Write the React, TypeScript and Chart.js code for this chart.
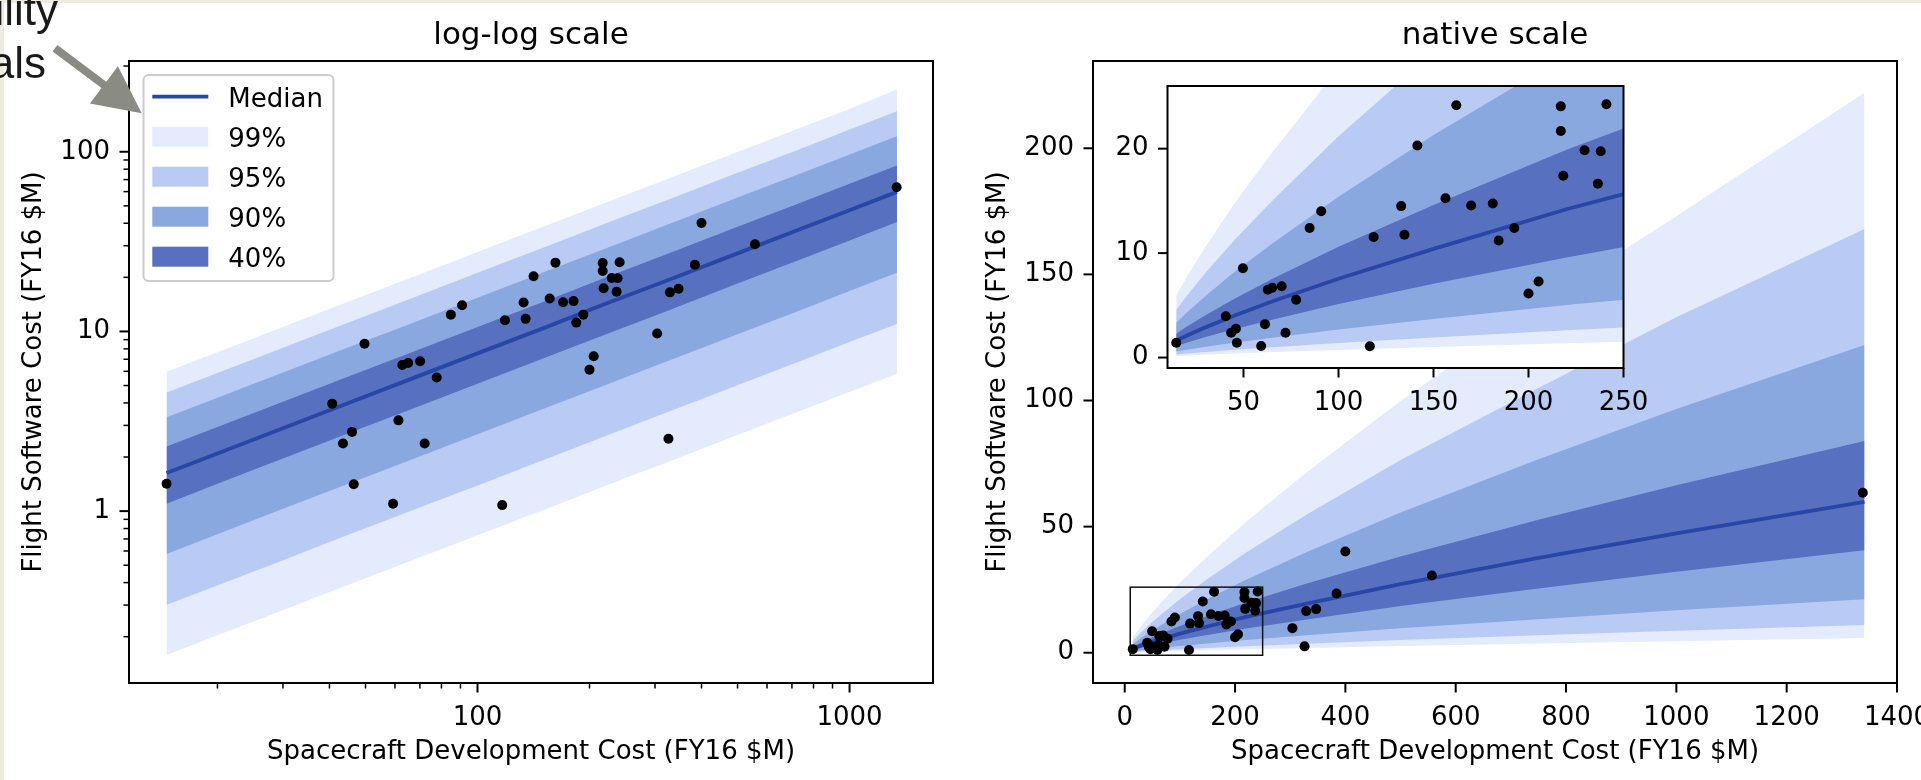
import React, { useEffect, useRef } from 'react';
import { Chart, registerables } from 'chart.js';

Chart.register(...registerables);

const FONT = "'DejaVu Sans', sans-serif";
Chart.defaults.font.family = FONT;
Chart.defaults.color = '#000';

// Observed missions: spacecraft development cost vs flight software cost (FY16 $M)
const costX = [14.6, 40.7, 43.5, 46, 46.5, 49.7, 59.3, 61.3, 62.8, 65.1, 70.1, 72.1, 77.7, 84.8, 90.9, 116.5, 118.5, 133, 134.7, 141.5, 156.3, 162, 169.8, 181.2, 184.3, 192.5, 200, 205.3, 217, 217, 218.3, 229.5, 236.5, 238, 241, 304, 326, 329, 347, 384, 400, 557, 1338];
const costY = [1.42, 3.96, 2.38, 2.76, 1.41, 8.55, 1.1, 3.2, 6.5, 6.68, 6.83, 2.38, 5.54, 12.4, 14.0, 1.08, 11.55, 14.5, 11.75, 20.3, 15.25, 24.15, 14.55, 14.75, 11.2, 12.4, 6.13, 7.28, 24.05, 21.7, 17.4, 19.85, 16.65, 19.75, 24.25, 9.75, 2.53, 16.5, 17.3, 23.5, 40.1, 30.6, 63.4];

// Prediction band samples
const bandX = [14.6, 20, 30, 45, 65, 100, 150, 220, 330, 500, 750, 1000, 1341];
const median = [1.63, 2.09, 2.89, 4.0, 5.36, 7.55, 10.4, 14.2, 19.5, 27.2, 37.6, 47.3, 59.8];
const hi40 = [2.29, 2.94, 4.06, 5.61, 7.52, 10.6, 14.6, 19.9, 27.4, 38.2, 52.7, 66.4, 83.9];
const lo40 = [1.1, 1.42, 1.96, 2.71, 3.63, 5.12, 7.06, 9.59, 13.2, 18.5, 25.5, 32.1, 40.6];
const hi90 = [3.33, 4.28, 5.9, 8.17, 10.9, 15.4, 21.3, 28.9, 39.9, 55.6, 76.7, 96.6, 122];
const lo90 = [0.578, 0.743, 1.03, 1.42, 1.9, 2.68, 3.7, 5.02, 6.93, 9.66, 13.3, 16.8, 21.2];
const hi95 = [4.57, 5.87, 8.11, 11.2, 15.0, 21.2, 29.2, 39.7, 54.8, 76.4, 105, 133, 168];
const lo95 = [0.301, 0.386, 0.533, 0.738, 0.989, 1.39, 1.92, 2.61, 3.61, 5.02, 6.93, 8.73, 11.0];
const hi99 = [5.97, 7.67, 10.6, 14.7, 19.6, 27.7, 38.2, 51.9, 71.6, 99.8, 138, 173, 222];
const lo99 = [0.158, 0.204, 0.281, 0.389, 0.521, 0.735, 1.01, 1.38, 1.9, 2.65, 3.66, 4.6, 5.82];

const legendLabels = ['Median', '99%', '95%', '90%', '40%'];

// Tick positions
const logXTicks = [20, 30, 40, 50, 60, 70, 80, 90, 100, 200, 300, 400, 500, 600, 700, 800, 900, 1000];
const logYTicks = [0.2, 0.3, 0.4, 0.5, 0.6, 0.7, 0.8, 0.9, 1, 2, 3, 4, 5, 6, 7, 8, 9, 10, 20, 30, 40, 50, 60, 70, 80, 90, 100, 200, 300];
const nativeXTicks = [0, 200, 400, 600, 800, 1000, 1200, 1400];
const nativeYTicks = [0, 50, 100, 150, 200];
const insetXTicks = [50, 100, 150, 200, 250];
const insetYTicks = [0, 10, 20];
const insetXRange = [10, 250];
const insetYRange = [-1, 26];

const C99 = '#e3ebfc';
const C95 = '#b9cbf5';
const C90 = '#8aa8e0';
const C40 = '#5870c0';
const CMED = '#2846a5';
const legendColors = [CMED, C99, C95, C90, C40];
const BEIGE = '#eeebe2';

const xy = (xs: number[], ys: number[]) => xs.map((x, i) => ({ x, y: ys[i] }));

function makeDatasets(r: number) {
  const band = (data: number[], color: string, order: number, fillTo?: number) => ({
    type: 'line',
    data: xy(bandX, data),
    borderColor: 'rgba(0,0,0,0)',
    borderWidth: 0,
    backgroundColor: color,
    pointRadius: 0,
    fill: fillTo === undefined ? false : { target: fillTo },
    order,
    tension: 0,
    clip: 0,
  });
  return [
    {
      type: 'scatter',
      data: xy(costX, costY),
      pointRadius: r,
      pointBackgroundColor: '#000',
      backgroundColor: '#000',
      pointBorderWidth: 0,
      borderWidth: 0,
      order: 0,
      clip: 0,
    },
    {
      type: 'line',
      data: xy(bandX, median),
      borderColor: CMED,
      borderWidth: 3.8,
      pointRadius: 0,
      fill: false,
      order: 1,
      tension: 0,
      clip: 0,
    },
    band(hi40, C40, 2, 3),
    band(lo40, C40, 2),
    band(hi90, C90, 3, 5),
    band(lo90, C90, 3),
    band(hi95, C95, 4, 7),
    band(lo95, C95, 4),
    band(hi99, C99, 5, 9),
    band(lo99, C99, 5),
  ];
}

const isPow10 = (v: number) => {
  const l = Math.log10(v);
  return Math.abs(l - Math.round(l)) < 1e-9;
};
const logLabel = (v: any) => (isPow10(Number(v)) ? String(Number(v)) : '');

const deco = {
  id: 'deco',
  beforeDatasetsDraw(chart: any, _a: any, o: any) {
    if (o && o.whiteBg) {
      const a = chart.chartArea;
      const ctx = chart.ctx;
      ctx.save();
      ctx.fillStyle = '#fff';
      ctx.fillRect(a.left, a.top, a.right - a.left, a.bottom - a.top);
      ctx.restore();
    }
  },
  afterDatasetsDraw(chart: any, _a: any, o: any) {
    if (o && o.zoomRect) {
      const ctx = chart.ctx;
      const xs = chart.scales.x;
      const ys = chart.scales.y;
      const x0 = xs.getPixelForValue(insetXRange[0]);
      const x1 = xs.getPixelForValue(insetXRange[1]);
      const y0 = ys.getPixelForValue(insetYRange[0]);
      const y1 = ys.getPixelForValue(insetYRange[1]);
      ctx.save();
      ctx.strokeStyle = '#111';
      ctx.lineWidth = 1.5;
      ctx.strokeRect(x0, y1, x1 - x0, y0 - y1);
      ctx.restore();
    }
  },
  afterDraw(chart: any, _a: any, o: any) {
    const ctx = chart.ctx;
    const a = chart.chartArea;
    ctx.save();
    ctx.strokeStyle = '#000';
    ctx.lineCap = 'butt';
    const xs = chart.scales.x;
    xs.ticks.forEach((t: any) => {
      const p = xs.getPixelForValue(t.value);
      if (p < a.left - 0.6 || p > a.right + 0.6) return;
      const major = t.label !== '' && t.label !== undefined;
      ctx.lineWidth = major ? 2 : 1.5;
      ctx.beginPath();
      ctx.moveTo(p, a.bottom);
      ctx.lineTo(p, a.bottom + (major ? 9.5 : 5.5));
      ctx.stroke();
    });
    const ys = chart.scales.y;
    ys.ticks.forEach((t: any) => {
      const p = ys.getPixelForValue(t.value);
      if (p < a.top - 0.6 || p > a.bottom + 0.6) return;
      const major = t.label !== '' && t.label !== undefined;
      ctx.lineWidth = major ? 2 : 1.5;
      ctx.beginPath();
      ctx.moveTo(a.left, p);
      ctx.lineTo(a.left - (major ? 9.5 : 5.5), p);
      ctx.stroke();
    });
    ctx.lineWidth = 2;
    ctx.strokeRect(a.left, a.top, a.right - a.left, a.bottom - a.top);

    if (o && o.legend) {
      const bx = 143.5, by = 75, bw = 190, bh = 206;
      ctx.beginPath();
      ctx.roundRect(bx, by, bw, bh, 5);
      ctx.fillStyle = 'rgba(255,255,255,0.8)';
      ctx.fill();
      ctx.strokeStyle = '#cccccc';
      ctx.lineWidth = 2;
      ctx.stroke();
      ctx.font = `26px ${FONT}`;
      ctx.textAlign = 'left';
      ctx.textBaseline = 'alphabetic';
      legendLabels.forEach((lab, i) => {
        const cy = 96.7 + i * 40;
        if (i === 0) {
          ctx.strokeStyle = legendColors[i];
          ctx.lineWidth = 3.8;
          ctx.beginPath();
          ctx.moveTo(152.3, cy);
          ctx.lineTo(208.3, cy);
          ctx.stroke();
        } else {
          ctx.fillStyle = legendColors[i];
          ctx.fillRect(152.3, cy - 10, 56, 20);
        }
        ctx.fillStyle = '#000';
        ctx.fillText(lab, 228.3, cy + 10);
      });
    }

    if (o && o.annot) {
      ctx.fillStyle = '#1a1a1a';
      ctx.font = `44px 'Liberation Sans', Arial, sans-serif`;
      ctx.textAlign = 'right';
      ctx.textBaseline = 'alphabetic';
      ctx.fillText('ility', 58, 25);
      ctx.fillText('als', 46, 78);
      ctx.fillStyle = '#8a8c84';
      ctx.beginPath();
      ctx.moveTo(52.6, 51.5);
      ctx.lineTo(101.5, 88.1);
      ctx.lineTo(89.9, 103.5);
      ctx.lineTo(141.7, 113.3);
      ctx.lineTo(117.9, 66.3);
      ctx.lineTo(106.3, 81.7);
      ctx.lineTo(57.4, 45.1);
      ctx.closePath();
      ctx.fill();
    }
    ctx.restore();
  },
};

const tickFont = { family: FONT, size: 26 };

function axis(kind: 'x' | 'y', type: string, min: number, max: number, ticks: number[], size: number, pad: number, label: (v: any) => string, title?: { text: string; pad: number }) {
  return {
    type,
    min,
    max,
    bounds: 'data',
    grid: { display: false, drawTicks: false },
    border: { display: false },
    afterFit: (s: any) => {
      if (kind === 'x') s.height = size;
      else s.width = size;
      s.paddingLeft = 0;
      s.paddingRight = 0;
      s.paddingTop = 0;
      s.paddingBottom = 0;
    },
    afterBuildTicks: (s: any) => {
      s.ticks = ticks.map((v) => ({ value: v }));
    },
    ticks: {
      autoSkip: false,
      maxRotation: 0,
      minRotation: 0,
      padding: pad,
      color: '#000',
      font: tickFont,
      callback: label,
    },
    title: title
      ? {
          display: true,
          text: title.text,
          color: '#000',
          font: { family: FONT, size: 26 },
          padding: kind === 'x' ? { top: 0, bottom: title.pad } : { top: title.pad, bottom: 0 },
        }
      : { display: false },
  };
}

const XLABEL = 'Spacecraft Development Cost (FY16 $M)';
const YLABEL = 'Flight Software Cost (FY16 $M)';
const plain = (v: any) => String(v);

function baseOptions(padding: any, titleText: string | null, decoOpts: any, scales: any) {
  return {
    animation: false,
    responsive: false,
    events: [],
    layout: { padding },
    plugins: {
      legend: { display: false },
      tooltip: { enabled: false },
      title: titleText
        ? {
            display: true,
            text: titleText,
            fullSize: false,
            color: '#000',
            font: { family: FONT, size: 31, weight: 'normal' },
            padding: { top: 17.2, bottom: 6.6 },
          }
        : { display: false },
      deco: decoOpts,
    },
    scales,
  };
}

const logConfig = () => ({
  type: 'scatter',
  data: { datasets: makeDatasets(5) },
  options: baseOptions({ left: 0, top: 0, right: 27, bottom: 0 }, 'log-log scale', { legend: true, annot: true }, {
    x: axis('x', 'logarithmic', 11.57, 1676, logXTicks, 97, 20, logLabel, { text: XLABEL, pad: 12.1 }),
    y: axis('y', 'logarithmic', 0.1105, 320, logYTicks, 129, 19, logLabel, { text: YLABEL, pad: 19 }),
  }),
  plugins: [deco],
});

const nativeConfig = () => ({
  type: 'scatter',
  data: { datasets: makeDatasets(5) },
  options: baseOptions({ left: 0, top: 0, right: 24, bottom: 0 }, 'native scale', { zoomRect: true }, {
    x: axis('x', 'linear', -57.5, 1400, nativeXTicks, 97, 20, plain, { text: XLABEL, pad: 12.1 }),
    y: axis('y', 'linear', -12, 234.6, nativeYTicks, 133, 19, plain, { text: YLABEL, pad: 22.3 }),
  }),
  plugins: [deco],
});

const insetConfig = () => ({
  type: 'scatter',
  data: { datasets: makeDatasets(5) },
  options: baseOptions({ left: 0, top: 16, right: 56.5, bottom: 0 }, null, { whiteBg: true }, {
    x: axis('x', 'linear', insetXRange[0], insetXRange[1], insetXTicks, 52, 20, plain),
    y: axis('y', 'linear', insetYRange[0], insetYRange[1], insetYTicks, 67.5, 19, plain),
  }),
  plugins: [deco],
});

function ChartCanvas({ make, left, top, w, h }: { make: () => any; left: number; top: number; w: number; h: number }) {
  const ref = useRef<HTMLCanvasElement>(null);
  useEffect(() => {
    const chart = new Chart(ref.current as HTMLCanvasElement, make());
    return () => chart.destroy();
  }, []);
  return (
    <canvas
      ref={ref}
      width={w}
      height={h}
      style={{ position: 'absolute', left, top, width: w, height: h }}
    />
  );
}

export default function App() {
  return (
    <div style={{ position: 'absolute', left: 0, top: 0, width: 1921, height: 780, background: '#fff', overflow: 'hidden' }}>
      <div style={{ position: 'absolute', left: 0, top: 0, width: 1921, height: 3, background: BEIGE }} />
      <div style={{ position: 'absolute', left: 0, top: 0, width: 4, height: 780, background: BEIGE }} />
      <ChartCanvas make={logConfig} left={0} top={0} w={960} h={780} />
      <ChartCanvas make={nativeConfig} left={960} top={0} w={961} h={780} />
      <ChartCanvas make={insetConfig} left={1100} top={70} w={580} h={350} />
    </div>
  );
}
